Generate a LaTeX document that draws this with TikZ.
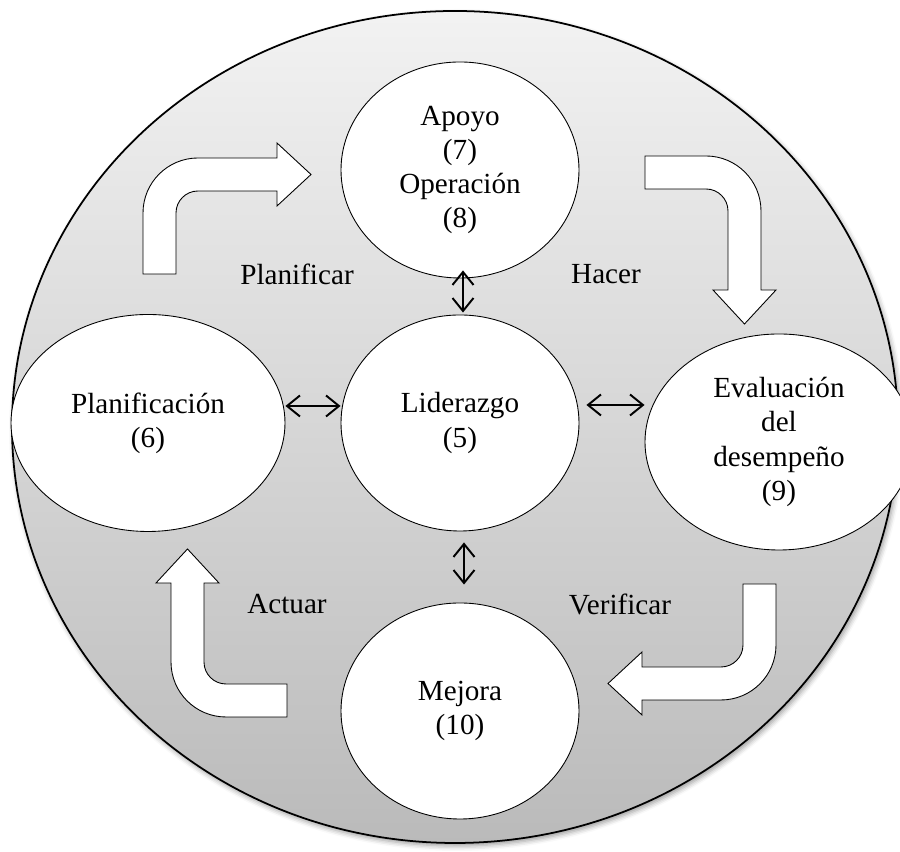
\documentclass[tikz,border=0pt]{standalone}
\usepackage{fontspec}
\setmainfont{Liberation Serif}
\usetikzlibrary{arrows.meta,shapes.geometric,shadows.blur}
\tikzset{
  stagenode/.style={ellipse, draw=black, fill=white, line width=0.5pt, align=center, inner sep=0pt, font=\fontsize{16.6}{19.4}\selectfont},
  phaselabel/.style={font=\fontsize{16.6}{19.4}\selectfont},
  linkarrow/.style={{Straight Barb[length=2.6mm,width=4.2mm]}-{Straight Barb[length=2.6mm,width=4.2mm]}, line width=1.1pt},
  bentarrow/.style={draw=black, fill=white, line width=0.5pt},
}

\begin{document}
\begin{tikzpicture}[x=1cm,y=1cm]
\clip (0,0) rectangle (18,17.04);
\draw[line width=1pt, top color=black!5, bottom color=black!27, blur shadow={shadow xshift=0.4mm, shadow yshift=-0.6mm, shadow blur radius=1mm}] (9.10,8.50) ellipse [x radius=8.86, y radius=8.32];

% stages
\node[stagenode, minimum width=4.76cm, minimum height=4.32cm] (apoyo) at (9.20,13.64) {Apoyo\\(7)\\Operación\\(8)};
\node[stagenode, minimum width=4.76cm, minimum height=4.32cm] (lider) at (9.20,8.58) {Liderazgo\\(5)};
\node[stagenode, minimum width=5.48cm, minimum height=4.34cm] (plan) at (2.96,8.58) {Planificación\\(6)};
\node[stagenode, minimum width=5.36cm, minimum height=4.32cm] (eval) at (15.58,8.20) {Evaluación\\del\\desempeño\\(9)};
\node[stagenode, minimum width=4.76cm, minimum height=4.32cm] (mejora) at (9.20,2.82) {Mejora\\(10)};

% links to the centre
\draw[linkarrow, shorten <=-1.6mm, shorten >=0.4mm] ([xshift=0.06cm]apoyo.south) -- ([xshift=0.06cm]lider.north);
\draw[linkarrow, shorten <=2.2mm, shorten >=3.6mm] ([xshift=0.08cm]lider.south) -- ([xshift=0.08cm]mejora.north);
\draw[linkarrow] ([yshift=0.34cm]plan.east) -- ([yshift=0.34cm]lider.west);
\draw[linkarrow, shorten <=1.4mm] ([yshift=0.36cm]lider.east) -- ([yshift=0.74cm]eval.west);

% cycle arrows
\foreach \cx/\cy/\rot in {2.86/13.88/0, 15.22/13.92/-90, 15.52/3.04/180, 3.42/2.70/90}{
  \begin{scope}[shift={(\cx,\cy)}, rotate=\rot]
    \draw[bentarrow] (0,-2.32) -- (0,-1.10) arc[start angle=180, end angle=90, radius=1.10] -- (2.68,0) -- (2.68,0.30) -- (3.36,-0.33) -- (2.68,-0.96) -- (2.68,-0.66) -- (1.10,-0.66) arc[start angle=90, end angle=180, radius=0.44] -- (0.66,-2.32) -- cycle;
  \end{scope}
}

\node[phaselabel] (planificar) at (5.94,11.56) {Planificar};
\node[phaselabel] (hacer) at (12.12,11.56) {Hacer};
\node[phaselabel] (actuar) at (5.74,4.96) {Actuar};
\node[phaselabel] (verificar) at (12.40,4.96) {Verificar};
\end{tikzpicture}
\end{document}
